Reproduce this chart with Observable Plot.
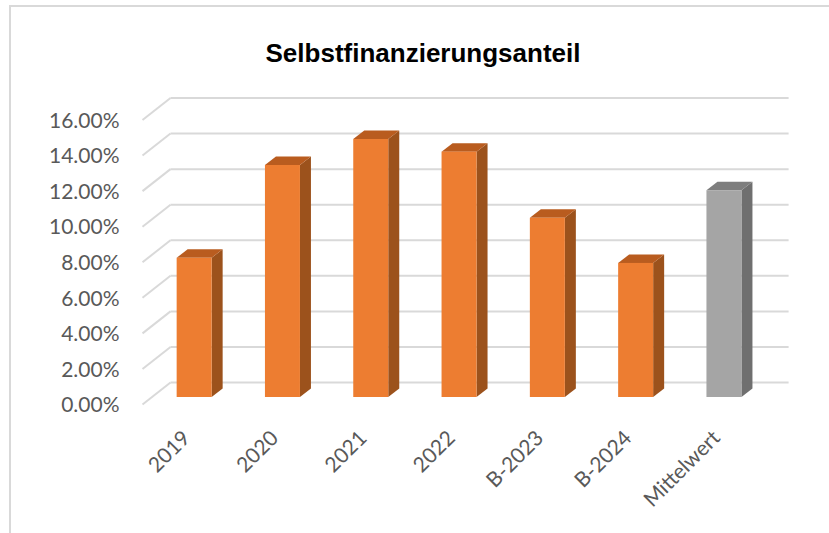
<!DOCTYPE html>
<html>
<head>
<meta charset="utf-8">
<script src="https://cdn.jsdelivr.net/npm/d3@7"></script>
<script src="https://cdn.jsdelivr.net/npm/@observablehq/plot@0.6"></script>
<style>
  html, body { margin: 0; padding: 0; background: #ffffff; }
  #wrap { position: relative; width: 829px; height: 533px; overflow: hidden; }
  #wrap .bt { position: absolute; left: 9px; top: 5px; right: 0; height: 2px; background: #d9d9d9; }
  #wrap .bl { position: absolute; left: 9px; top: 5px; bottom: 0; width: 2px; background: #d9d9d9; }
  #chart { position: absolute; left: 0; top: 0; }
</style>
</head>
<body>
<div id="wrap"><div id="chart"></div><div class="bt"></div><div class="bl"></div></div>
<script>
// ---- data ----
const title = "Selbstfinanzierungsanteil";
const categories = ["2019", "2020", "2021", "2022", "B-2023", "B-2024", "Mittelwert"];
const values = [7.83, 13.05, 14.51, 13.80, 10.08, 7.54, 11.63]; // percent
const yTicks = [0, 2, 4, 6, 8, 10, 12, 14, 16];
const yTickLabels = ["0.00%", "2.00%", "4.00%", "6.00%", "8.00%", "10.00%", "12.00%", "14.00%", "16.00%"];

// ---- layout (3D oblique projection, in data units) ----
const pxPerCat = 88.3, pxPerPct = 17.78;
const backDX = 20 / pxPerCat, backDY = 15 / pxPerPct;     // back wall offset
const frontDX = -8 / pxPerCat, frontDY = -7 / pxPerPct;   // front edge offset
const depthDX = 11 / pxPerCat, depthDY = 8.5 / pxPerPct;  // bar depth
const barW = 35 / pxPerCat;

const colors = {
  front: (c) => c === "Mittelwert" ? "#a5a5a5" : "#ed7d31",
  side:  (c) => c === "Mittelwert" ? "#6f6f6f" : "#9c521c",
  top:   (c) => c === "Mittelwert" ? "#7e7e7e" : "#b95c1f"
};

const bars = categories.map((c, i) => ({c, i, v: values[i], xl: i + 0.5 - barW / 2, xr: i + 0.5 + barW / 2}));

const sidePts = bars.flatMap(b => [
  {c: b.c, x: b.xr, y1: 0, y2: b.v},
  {c: b.c, x: b.xr + depthDX, y1: depthDY, y2: b.v + depthDY}
]);
const topPts = bars.flatMap(b => [
  {c: b.c, x: b.xl, y1: b.v, y2: b.v},
  {c: b.c, x: b.xl + depthDX, y1: b.v, y2: b.v + depthDY},
  {c: b.c, x: b.xr, y1: b.v, y2: b.v + depthDY},
  {c: b.c, x: b.xr + depthDX, y1: b.v + depthDY, y2: b.v + depthDY}
]);

const grid = yTicks.map((t, k) => ({t, label: yTickLabels[k]}));

const chart = Plot.plot({
  width: 829,
  height: 533,
  margin: 0,
  x: {type: "linear", domain: [0, 7], range: [150, 150 + 7 * pxPerCat], axis: null},
  y: {type: "linear", domain: [0, 16], range: [397, 397 - 16 * pxPerPct], axis: null},
  style: {background: "transparent"},
  marks: [
    // back wall gridlines
    Plot.link(grid, {x1: backDX, x2: 7 + backDX, y1: d => d.t + backDY, y2: d => d.t + backDY, stroke: "#d9d9d9", strokeWidth: 2}),
    // side wall diagonals
    Plot.link(grid, {x1: frontDX, x2: backDX, y1: d => d.t + frontDY, y2: d => d.t + backDY, stroke: "#d9d9d9", strokeWidth: 2}),
    // y tick labels
    Plot.text(grid, {x: frontDX, y: d => d.t + frontDY, text: "label", textAnchor: "end", dx: -23, dy: 1, fontSize: 21, fill: "#595959", fontFamily: "Lato"}),
    // bar side faces
    Plot.areaY(sidePts, {x: "x", y1: "y1", y2: "y2", z: "c", fill: d => colors.side(d.c)}),
    // bar top faces
    Plot.areaY(topPts, {x: "x", y1: "y1", y2: "y2", z: "c", fill: d => colors.top(d.c)}),
    // bar front faces
    Plot.rect(bars, {x1: "xl", x2: "xr", y1: 0, y2: "v", fill: d => colors.front(d.c)}),
    // category labels
    Plot.text(bars, {x: d => d.i + 0.5 + frontDX, y: frontDY, text: "c", rotate: -45, textAnchor: "end", dy: 30, fontSize: 21, fill: "#595959", fontFamily: "Lato"}),
    // title
    Plot.text([title], {frameAnchor: "top", text: d => d, dx: 8, dy: 43, fontSize: 26, fontWeight: "bold", fill: "#000000", fontFamily: "Liberation Sans"})
  ]
});
document.getElementById("chart").appendChild(chart);
</script>
</body>
</html>
